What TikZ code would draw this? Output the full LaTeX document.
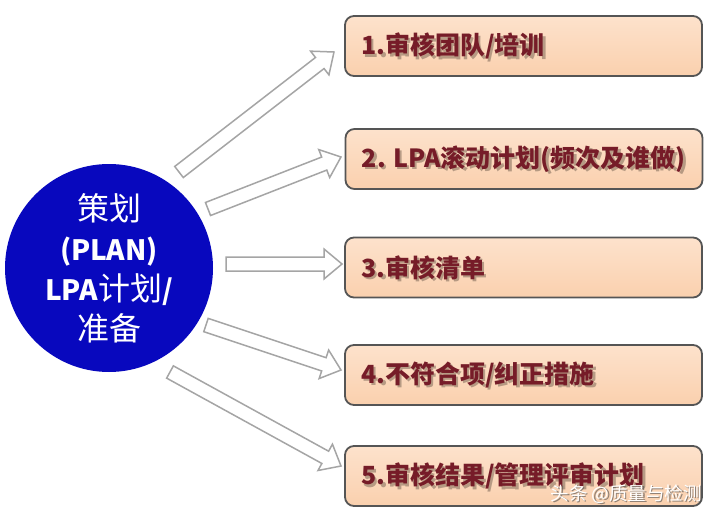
\documentclass[tikz,border=0pt]{standalone}
\usepackage{fontspec}
\newfontfamily\cjk{Noto Sans CJK SC}
\usetikzlibrary{calc}
\definecolor{circblue}{RGB}{8,8,190}
\definecolor{boxtop}{RGB}{253,226,204}
\definecolor{boxbot}{RGB}{250,208,174}
\definecolor{boxline}{RGB}{85,85,85}
\definecolor{txtred}{RGB}{118,28,40}
\definecolor{arrgray}{RGB}{165,165,165}
\tikzset{
  box/.style={draw=boxline, line width=1.8pt, rounded corners=9pt,
    top color=boxtop, bottom color=boxbot, minimum width=357pt,
    minimum height=60pt, inner sep=0pt},
  boxtxt/.style={anchor=west, inner sep=0pt, text=txtred,
    font=\cjk\bfseries\fontsize{25}{30}\selectfont},
  boxshadow/.style={boxtxt, text=black!45!boxbot, opacity=0.6},
  blockarr/.style={draw=arrgray, line width=1.5pt, fill=white, line join=miter},
  wmark/.style={anchor=east, inner sep=0pt, font=\cjk\fontsize{18.5}{22}\selectfont},
}
\newcommand{\blockarrow}[2]{%
  \draw[blockarr]
    ($(#1)!7pt!90:(#2)$) --
    ($($(#2)!18pt!(#1)$)!7pt!-90:(#1)$) --
    ($($(#2)!18pt!(#1)$)!15pt!-90:(#1)$) --
    (#2) --
    ($($(#2)!18pt!(#1)$)!15pt!90:(#1)$) --
    ($($(#2)!18pt!(#1)$)!7pt!90:(#1)$) --
    ($(#1)!7pt!-90:(#2)$) -- cycle;}
\newcommand{\zh}[1]{{\fontsize{32}{40}\selectfont #1}}
\begin{document}
\begin{tikzpicture}[x=1pt,y=-1pt]
\useasboundingbox[fill=white] (0,0) rectangle (715,517);
% central circle
\node[circle, fill=circblue, minimum size=208pt, inner sep=0pt] (c) at (109,268) {};
\node[align=center, text=white, inner sep=0pt,
  font=\cjk\fontsize{28}{40}\selectfont] (ct) at (c.center)
  {\zh{策划}\\{\bfseries (PLAN)}\\{\bfseries LPA}\zh{计划}{\bfseries /}\\\zh{准备}};
% boxes
\node[box] (b1) at (523.5,46) {};
\node[box] (b2) at (524,159) {};
\node[box] (b3) at (523.5,267.5) {};
\node[box] (b4) at (523.5,375) {};
\node[box] (b5) at (523.5,476) {};
\foreach \i/\t in {1/{1.审核团队/培训},2/{2. LPA滚动计划(频次及谁做)},3/{3.审核清单},4/{4.不符合项/纠正措施},5/{5.审核结果/管理评审计划}}{
  \node[boxshadow] (s\i) at ($(b\i.west)+(19.5,2.5)$) {\t};
  \node[boxtxt] (l\i) at ($(b\i.west)+(17,0)$) {\t};
}
% arrows
\coordinate (t1) at (179,172); \coordinate (h1) at (334,52);
\coordinate (t2) at (208,209); \coordinate (h2) at (341,157);
\coordinate (t3) at (226,264); \coordinate (h3) at (342,264);
\coordinate (t4) at (206,325); \coordinate (h4) at (341,370);
\coordinate (t5) at (170,372); \coordinate (h5) at (341,466);
\blockarrow{t1}{h1}
\blockarrow{t2}{h2}
\blockarrow{t3}{h3}
\blockarrow{t4}{h4}
\blockarrow{t5}{h5}
% watermark
\node[wmark, text=black!70, opacity=0.6] (wms) at (703.5,495.5) {头条 @质量与检测};
\node[wmark, text=white] (wm) at (702,494) {头条 @质量与检测};
\end{tikzpicture}
\end{document}
